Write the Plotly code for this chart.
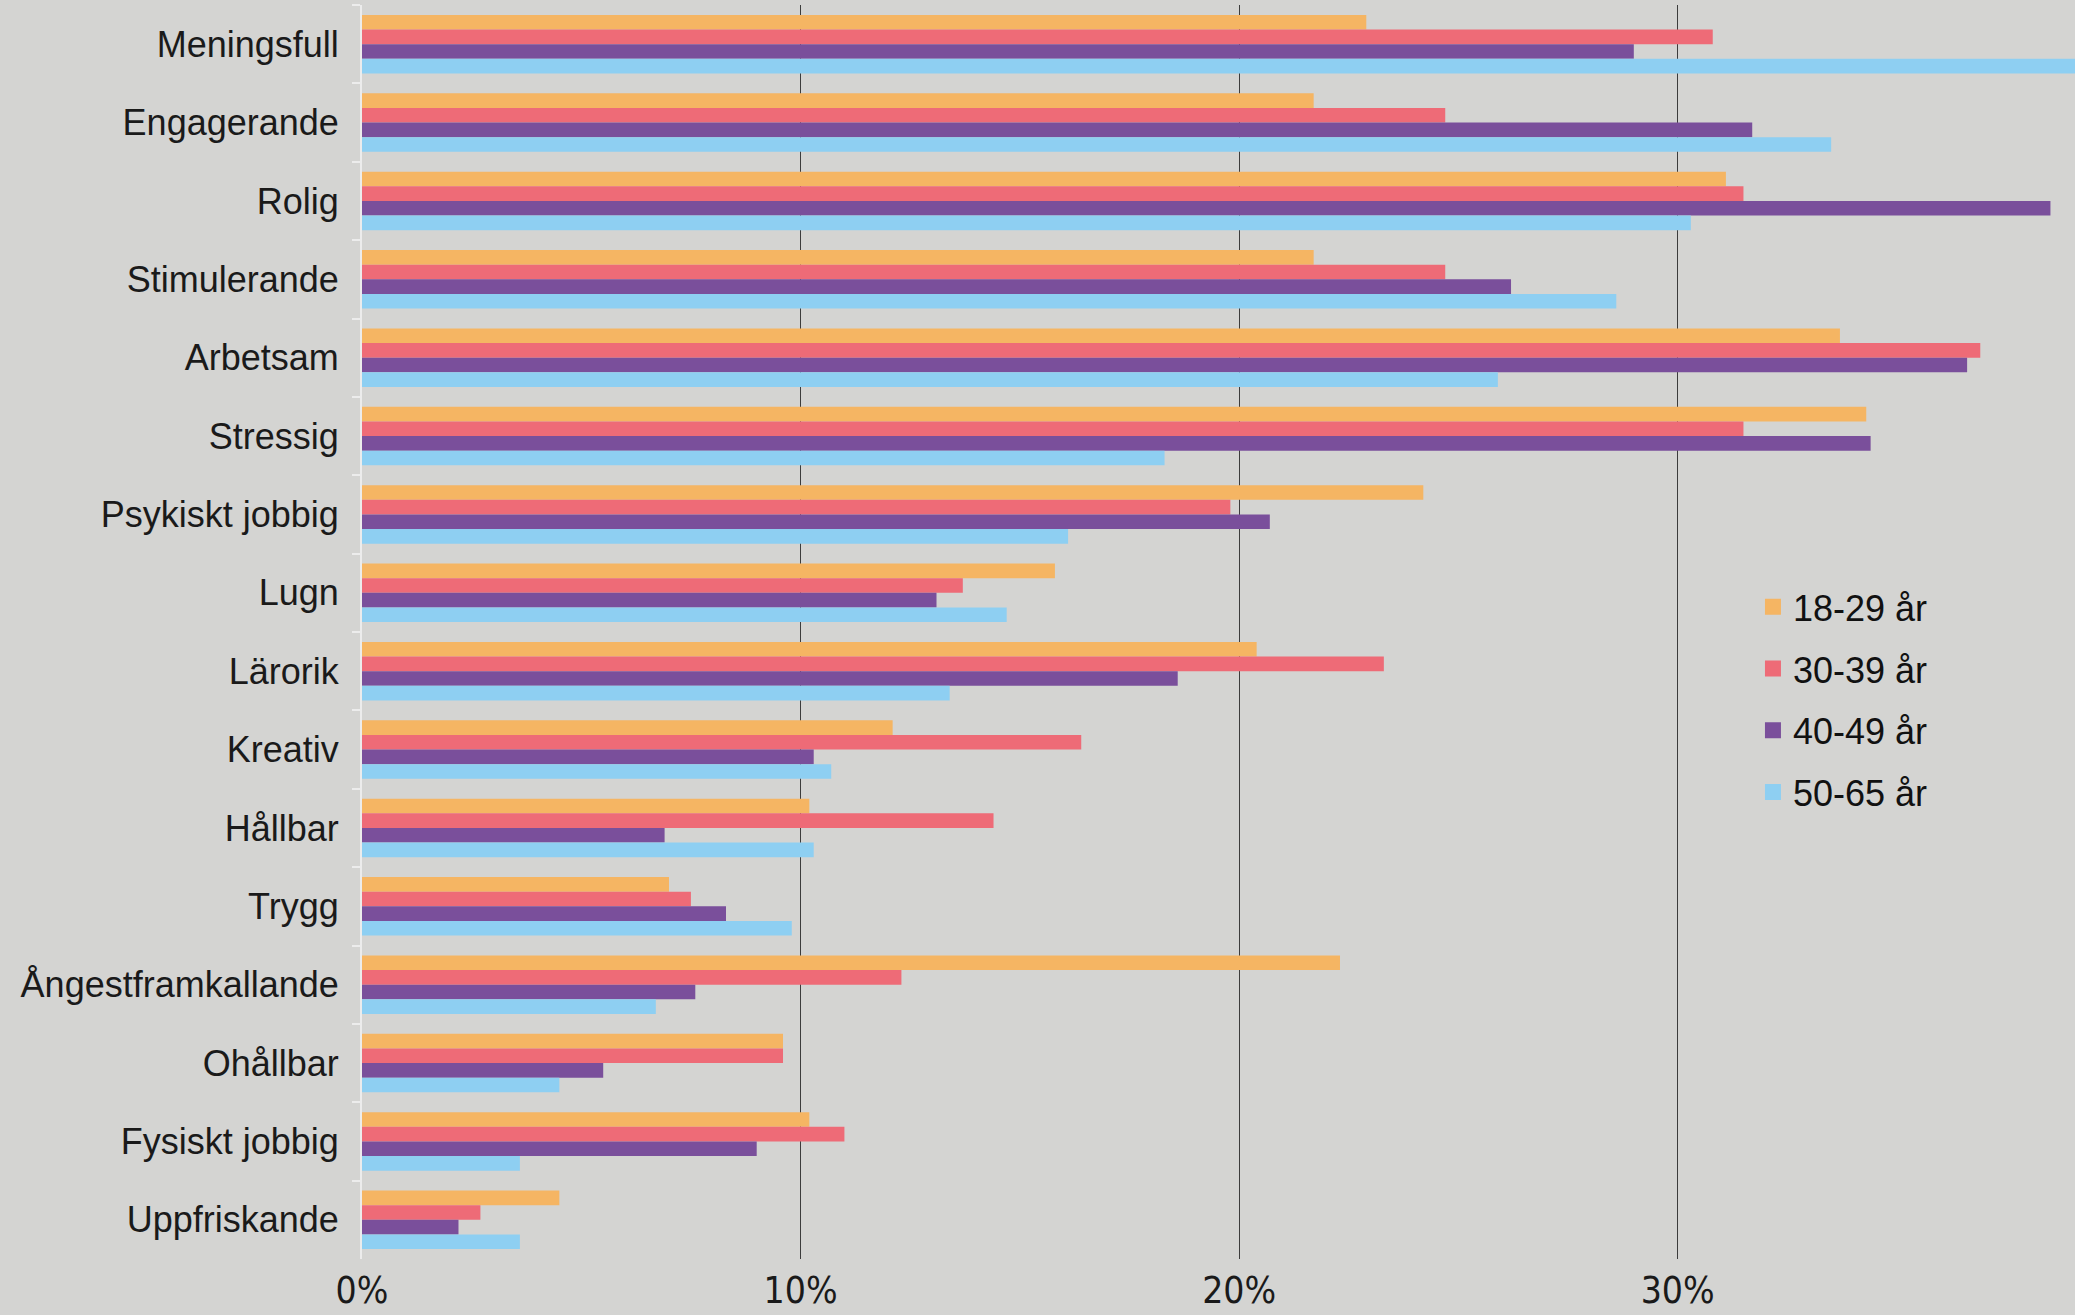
import plotly.graph_objects as go

categories = ["Meningsfull", "Engagerande", "Rolig", "Stimulerande", "Arbetsam", "Stressig",
              "Psykiskt jobbig", "Lugn", "Lärorik", "Kreativ", "Hållbar", "Trygg",
              "Ångestframkallande", "Ohållbar", "Fysiskt jobbig", "Uppfriskande"]

age_18_29 = [0.229, 0.217, 0.311, 0.217, 0.337, 0.343, 0.242, 0.158, 0.204, 0.121, 0.102, 0.070, 0.223, 0.096, 0.102, 0.045]
age_30_39 = [0.308, 0.247, 0.315, 0.247, 0.369, 0.315, 0.198, 0.137, 0.233, 0.164, 0.144, 0.075, 0.123, 0.096, 0.110, 0.027]
age_40_49 = [0.290, 0.317, 0.385, 0.262, 0.366, 0.344, 0.207, 0.131, 0.186, 0.103, 0.069, 0.083, 0.076, 0.055, 0.090, 0.022]
age_50_65 = [0.410, 0.335, 0.303, 0.286, 0.259, 0.183, 0.161, 0.147, 0.134, 0.107, 0.103, 0.098, 0.067, 0.045, 0.036, 0.036]

series_names = ["18-29 år", "30-39 år", "40-49 år", "50-65 år"]
series_values = [age_18_29, age_30_39, age_40_49, age_50_65]
series_colors = ["#F5B563", "#EE6B77", "#7A4F9B", "#8ECFF2"]

x_tickvals = [0, 0.1, 0.2, 0.3]
x_ticktext = ["0%", "10%", "20%", "30%"]

fig = go.Figure()
for i, (name, vals, col) in enumerate(zip(series_names, series_values, series_colors)):
    fig.add_trace(go.Bar(
        y=categories, x=vals, name=name, orientation="h",
        marker=dict(color=col, line=dict(width=0)),
        legendgroup=f"g{i}", showlegend=False,
    ))
# legend entries with larger square swatches
for i, (name, col) in enumerate(zip(series_names, series_colors)):
    fig.add_trace(go.Scatter(
        x=[None], y=[None], mode="markers", name=name,
        marker=dict(symbol="square", size=16, color=col, line=dict(width=0)),
        legendgroup=f"g{i}", showlegend=True,
    ))

bg = "#d4d4d2"
fig.update_layout(
    width=2075, height=1315,
    margin=dict(l=362, r=0, t=5, b=56, autoexpand=False),
    paper_bgcolor=bg, plot_bgcolor=bg,
    barmode="group", bargap=0.255, bargroupgap=0,
    showlegend=True,
    legend=dict(
        x=0.812, y=0.544, xanchor="left", yanchor="top",
        bgcolor="rgba(0,0,0,0)",
        font=dict(family="Liberation Sans, Arial, sans-serif", size=36, color="#111111"),
        tracegroupgap=12,
        itemwidth=30, itemsizing="trace",
    ),
    xaxis=dict(
        automargin=False,
        range=[0, 0.3906],
        tickvals=x_tickvals, ticktext=x_ticktext,
        showgrid=True, gridcolor="#3c3c3c", gridwidth=1.3,
        zeroline=False, showline=False,
        ticks="", ticklabelstandoff=6,
        tickfont=dict(family="Liberation Sans Narrow, DejaVu Sans Condensed, Arial Narrow, Liberation Sans, sans-serif",
                      size=37, color="#1a1a1a"),
    ),
    yaxis=dict(
        automargin=False,
        categoryorder="array", categoryarray=categories,
        range=[15.5, -0.5],
        showgrid=False, zeroline=False,
        showline=True, linecolor="#ececec", linewidth=2,
        ticks="outside", tickson="boundaries", ticklen=8, tickcolor="#ececec", tickwidth=2,
        ticklabelstandoff=14,
        tickfont=dict(family="Liberation Sans, Arial, sans-serif", size=36, color="#1a1a1a"),
    ),
)

fig.write_html("out.html")
